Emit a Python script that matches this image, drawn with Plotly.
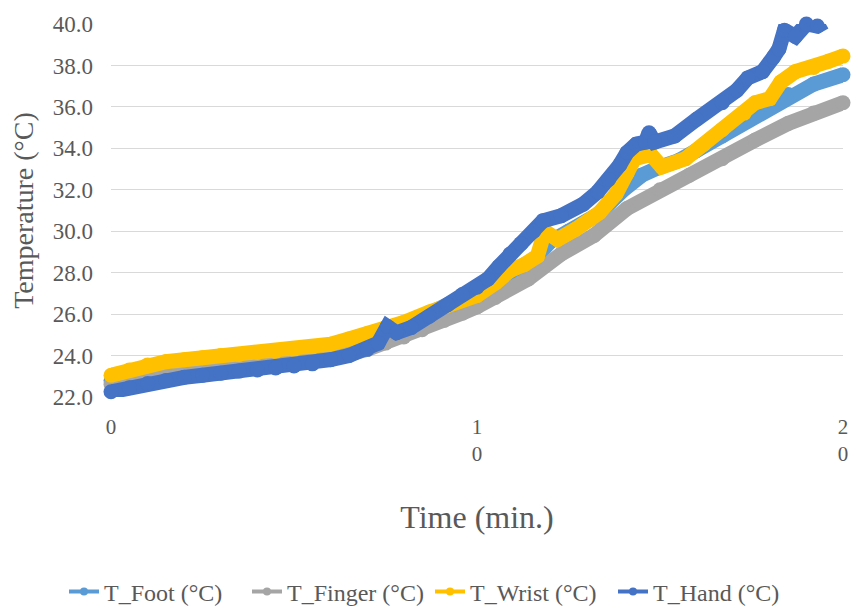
import plotly.graph_objects as go

# Time (min.) sample points and temperatures (°C) for each sensor
foot_t = [0, 0.5, 1, 1.5, 2, 3, 4, 5, 6, 6.5, 7, 7.5, 8, 8.5, 9.3, 10, 10.9, 11.5, 12.0, 12.5,
          13.3, 14.0, 14.5, 15.0, 15.5, 16.0, 16.7, 17.6, 18.5, 19.2, 20.0]
foot = [22.8, 23.1, 23.35, 23.5, 23.6, 23.8, 23.95, 24.1, 24.4, 24.65, 24.95, 25.3, 25.55, 25.85, 26.55,
        27.1, 28.0, 28.5, 29.5, 30.0, 30.8, 32.0, 32.7, 33.1, 33.4, 33.9, 34.6, 35.6, 36.6, 37.1, 37.55]

finger_t = [0, 1, 2, 3, 4, 5, 6, 7, 7.5, 8, 8.5, 9.1, 9.6, 10, 10.5, 11.4, 12.3, 13.2, 14.1, 15.0,
            15.8, 16.7, 17.6, 18.5, 19.2, 20.0]
finger = [22.6, 22.9, 23.2, 23.35, 23.5, 23.6, 23.85, 24.3, 24.6, 24.9, 25.25, 25.7, 26.05, 26.35, 26.8,
          27.7, 28.9, 29.8, 31.1, 32.0, 32.7, 33.5, 34.4, 35.2, 35.7, 36.2]

wrist_t = [0, 0.5, 1, 1.5, 2, 2.5, 3, 3.5, 4, 4.5, 5, 5.5, 6, 6.5, 7, 7.5, 8, 8.7, 9.3, 10,
           10.5, 10.9, 11.3, 11.65, 11.85, 12.2, 12.7, 13.35, 13.8, 14.1, 14.3, 14.75, 15.05, 15.7,
           16.2, 16.7, 17.3, 17.6, 18.0, 18.3, 18.7, 19.2, 19.6, 20.0]
wrist = [23.05, 23.3, 23.55, 23.7, 23.8, 23.9, 24.0, 24.05, 24.15, 24.2, 24.3, 24.4, 24.55, 24.8, 25.05,
         25.3, 25.6, 26.1, 26.5, 26.9, 27.5, 28.1, 28.4, 28.8, 30.0, 29.6, 30.1, 30.9, 31.8, 32.8,
         33.5, 33.7, 33.1, 33.5, 34.2, 34.9, 35.7, 36.2, 36.4, 37.2, 37.7, 37.9, 38.2, 38.45]

hand_t = [0, 0.5, 1, 1.5, 2, 2.5, 3, 3.5, 4, 4.5, 5, 5.5, 6, 6.5, 7, 7.3, 7.55, 7.8, 8.2, 8.7,
          9.2, 9.6, 10, 10.3, 10.6, 10.9, 11.2, 11.55, 11.8, 12.3, 12.9, 13.3, 13.6, 13.9, 14.1,
          14.35, 14.6, 14.7, 14.85, 15.4, 16.0, 16.7, 17.1, 17.4, 17.8, 18.1, 18.25, 18.4, 18.7,
          19.0, 19.3, 19.5]
hand = [22.25, 22.45, 22.65, 22.8, 22.95, 23.05, 23.15, 23.25, 23.3, 23.4, 23.5, 23.6, 23.8, 24.0,
        24.3, 24.6, 25.4, 25.1, 25.35, 25.9, 26.45, 26.95, 27.3, 27.7, 28.3, 28.9, 29.4, 30.0, 30.5,
        30.75, 31.3, 31.9, 32.5, 33.2, 33.8, 34.2, 34.3, 34.75, 34.3, 34.6, 35.4, 36.2, 36.8, 37.4,
        37.7, 38.4, 38.8, 39.7, 39.4, 40.0, 39.9, 40.1]

series_names = ["T_Foot (°C)", "T_Finger (°C)", "T_Wrist (°C)", "T_Hand (°C)"]
series_colors = ["#5B9BD5", "#A5A5A5", "#FFC000", "#4472C4"]

x_ticks = [0, 10, 20]
x_tick_text = ["0", "1<br>0", "2<br>0"]
y_ticks = [22, 24, 26, 28, 30, 32, 34, 36, 38, 40]

FONT = "Liberation Serif, Times New Roman, serif"
TEXT = "#595959"

fig = go.Figure()

data = [(foot_t, foot), (finger_t, finger), (wrist_t, wrist), (hand_t, hand)]
for (t, v), name, color in zip(data, series_names, series_colors):
    # thick, densely marked series line
    fig.add_trace(go.Scatter(
        x=t, y=v, mode="lines+markers", name=name, showlegend=False,
        line=dict(color=color, width=15),
        marker=dict(color=color, size=15, line=dict(width=0)),
        cliponaxis=False, hoverinfo="x+y+name",
    ))

for name, color in zip(series_names, series_colors):
    # slim legend key
    fig.add_trace(go.Scatter(
        x=[None], y=[None], mode="lines+markers", name=name,
        line=dict(color=color, width=4),
        marker=dict(color=color, size=8, line=dict(width=0)),
    ))

fig.update_layout(
    width=860, height=612,
    margin=dict(l=111, r=12, t=21, b=215),
    paper_bgcolor="white", plot_bgcolor="white",
    font=dict(family=FONT, color=TEXT),
    showlegend=True,
    legend=dict(
        orientation="h", xref="container", yref="container",
        x=0.5, xanchor="center", y=0.033, yanchor="middle",
        font=dict(family=FONT, size=24, color=TEXT),
        entrywidth=138, entrywidthmode="pixels",
        bgcolor="rgba(0,0,0,0)",
    ),
)

fig.update_xaxes(
    range=[0, 20], tickvals=x_ticks, ticktext=x_tick_text,
    showgrid=False, zeroline=False, showline=False, ticks="",
    ticklabelstandoff=15,
    tickfont=dict(family=FONT, size=21, color=TEXT),
    title=dict(text="Time (min.)", font=dict(family=FONT, size=32, color=TEXT), standoff=40),
)

fig.update_yaxes(
    range=[22, 40], tickvals=y_ticks, tickformat=".1f",
    showgrid=True, gridcolor="#D9D9D9", gridwidth=1.3,
    zeroline=False, showline=False, ticks="",
    ticklabelstandoff=17,
    tickfont=dict(family=FONT, size=23, color=TEXT),
    title=dict(text="Temperature (°C)", font=dict(family=FONT, size=28, color=TEXT), standoff=10),
)

fig.write_html("out.html")
